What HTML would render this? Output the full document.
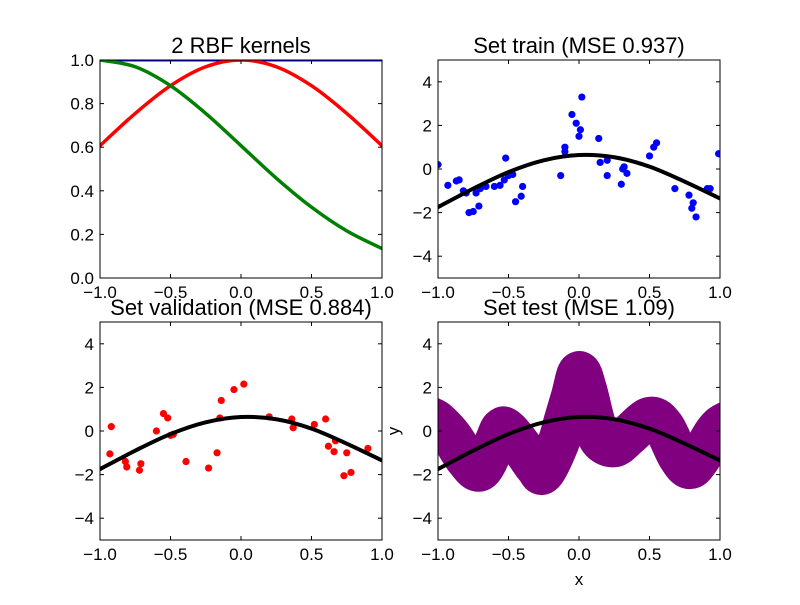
<!DOCTYPE html>
<html><head><meta charset="utf-8"><style>
body{margin:0;background:#fff}
svg text{font-family:"Liberation Sans","DejaVu Sans",sans-serif;fill:#000}
</style></head><body>
<svg id="fig" width="800" height="600" viewBox="0 0 800 600" xmlns="http://www.w3.org/2000/svg">
<rect width="800" height="600" fill="#fff"/>
</svg>
<script>
const kernelX=[-1,-0.75,-0.5,-0.25,0,0.25,0.5,0.75,1];
const kernelRed=[0.607,0.755,0.882,0.969,1,0.969,0.882,0.755,0.607];
const kernelGreen=[1,0.969,0.882,0.755,0.607,0.458,0.325,0.216,0.135];
const kernelBlue=[1,1,1,1,1,1,1,1,1];
const fitX=[-1,-0.75,-0.5,-0.25,0,0.25,0.5,0.75,1];
const fitY=[-1.75,-0.9,-0.14,0.4,0.64,0.54,0.11,-0.58,-1.35];
const trainX=[-1,-0.93,-0.87,-0.85,-0.82,-0.8,-0.78,-0.75,-0.73,-0.71,-0.7,-0.66,-0.6,-0.56,-0.53,-0.52,-0.5,-0.47,-0.45,-0.41,-0.4,-0.13,-0.1,-0.1,-0.05,-0.02,0,0.01,0.02,0.14,0.15,0.2,0.2,0.3,0.31,0.32,0.34,0.5,0.53,0.55,0.68,0.78,0.8,0.81,0.83,0.91,0.93,0.99];
const trainY=[0.2,-0.75,-0.55,-0.5,-1.0,-1.1,-2.0,-1.95,-1.1,-1.7,-0.9,-0.8,-0.8,-0.75,-0.5,0.5,-0.3,-0.25,-1.5,-1.25,-0.8,-0.3,0.8,1.0,2.5,2.1,1.5,1.8,3.3,1.4,0.3,-0.3,0.4,-0.7,0.0,0.1,-0.2,0.6,1.0,1.2,-0.9,-1.2,-1.8,-1.55,-2.2,-0.9,-0.9,0.7];
const valX=[-0.92,-0.93,-0.82,-0.81,-0.72,-0.71,-0.6,-0.55,-0.52,-0.5,-0.48,-0.39,-0.23,-0.17,-0.15,-0.14,-0.05,0.02,0.2,0.36,0.37,0.52,0.6,0.62,0.66,0.67,0.73,0.75,0.78,0.9];
const valY=[0.2,-1.05,-1.4,-1.65,-1.8,-1.5,0.0,0.8,0.6,-0.2,-0.15,-1.4,-1.7,-1.0,0.6,1.4,1.9,2.15,0.65,0.55,0.15,0.3,0.55,-0.7,-0.95,-0.45,-2.05,-1.0,-1.9,-0.8];
const testX=[-1.05,-1,-0.9,-0.8,-0.7,-0.6,-0.55,-0.5,-0.4,-0.3,-0.25,-0.15,-0.1,-0.05,0,0.05,0.1,0.15,0.25,0.35,0.5,0.6,0.7,0.78,0.85,0.95,1,1.05];
const testY=[0.6,0.4,-0.3,-1.3,-1.8,-0.6,0.1,0.0,-0.8,-1.7,-1.9,-0.6,0.5,1.6,2.7,1.9,0.6,-0.4,-0.7,-0.2,0.6,0.2,-1.1,-1.7,-1.3,-0.2,0.2,0.4];
const xTicks=[-1,-0.5,0,0.5,1];
const xTickLabels=["\u22121.0","\u22120.5","0.0","0.5","1.0"];
const kTicks=[0,0.2,0.4,0.6,0.8,1];
const kTickLabels=["0.0","0.2","0.4","0.6","0.8","1.0"];
const yTicks=[-4,-2,0,2,4];
const yTickLabels=["\u22124","\u22122","0","2","4"];

const NS="http://www.w3.org/2000/svg";
const svg=document.getElementById('fig');
function mk(tag,attrs,parent){const e=document.createElementNS(NS,tag);for(const k in attrs)e.setAttribute(k,attrs[k]);(parent||svg).appendChild(e);return e;}
function smooth(pts){let d=`M${pts[0][0]},${pts[0][1]}`;for(let i=0;i<pts.length-1;i++){const p0=pts[Math.max(0,i-1)],p1=pts[i],p2=pts[i+1],p3=pts[Math.min(pts.length-1,i+2)];const c1=[p1[0]+(p2[0]-p0[0])/6,p1[1]+(p2[1]-p0[1])/6],c2=[p2[0]-(p3[0]-p1[0])/6,p2[1]-(p3[1]-p1[1])/6];d+=`C${c1[0]},${c1[1]} ${c2[0]},${c2[1]} ${p2[0]},${p2[1]}`;}return d;}

function makeAxes(id,x0,y0,w,h,ymin,ymax,title){
  const g=mk('g',{});
  
  
  const ax={g,sx:v=>x0+(v+1)/2*w,sy:v=>y0+h-(v-ymin)/(ymax-ymin)*h,x0,y0,w,h};
  const cp=mk('clipPath',{id:'clip-'+id},g);mk('rect',{x:x0,y:y0,width:w,height:h},cp);
  ax.plot=mk('g',{'clip-path':`url(#clip-${id})`},g);
  ax.title=title;ax.ymin=ymin;ax.ymax=ymax;
  return ax;
}
function finishAxes(ax,ticks,labels){
  const g=ax.g;
  const fr=mk('rect',{x:ax.x0,y:ax.y0,width:ax.w,height:ax.h,fill:'none',stroke:'#000','stroke-width':1},g);
  
  
  xTicks.forEach((v,i)=>{const x=ax.sx(v);
    mk('line',{x1:x,x2:x,y1:ax.y0+ax.h,y2:ax.y0+ax.h-4,stroke:'#000'},g);
    mk('line',{x1:x,x2:x,y1:ax.y0,y2:ax.y0+4,stroke:'#000'},g);
    const t=mk('text',{x:x,y:ax.y0+ax.h+20,'text-anchor':'middle','font-size':17},g);t.textContent=xTickLabels[i];
    
    });
  ticks.forEach((v,i)=>{const y=ax.sy(v);
    mk('line',{x1:ax.x0,x2:ax.x0+4,y1:y,y2:y,stroke:'#000'},g);
    mk('line',{x1:ax.x0+ax.w,x2:ax.x0+ax.w-4,y1:y,y2:y,stroke:'#000'},g);
    const t=mk('text',{x:ax.x0-6,y:y+6,'text-anchor':'end','font-size':17},g);t.textContent=labels[i];
    
    });
  const t=mk('text',{x:ax.x0+ax.w/2,y:ax.y0-7,'text-anchor':'middle','font-size':22},g);t.textContent=ax.title;
  
  
}
function line(ax,xs,ys,color,w,name){const p=mk('path',{d:smooth(xs.map((v,i)=>[ax.sx(v),ax.sy(ys[i])])),fill:'none',stroke:color,'stroke-width':w,'stroke-linejoin':'round','stroke-linecap':'round'},ax.plot);
  
  }
function dots(ax,xs,ys,color,name){xs.forEach((v,i)=>{const c=mk('circle',{cx:ax.sx(v),cy:ax.sy(ys[i]),r:3.6,fill:color},ax.plot);
  
  });}

const W=282,H=218;
const a1=makeAxes('kernels-plot',100,60,W,H,0,1,'2 RBF kernels');
line(a1,kernelX,kernelBlue,'#0000ff',3,'kernel-blue');
line(a1,kernelX,kernelRed,'#ff0000',3.5,'kernel-red');
line(a1,kernelX,kernelGreen,'#008000',3.5,'kernel-green');
finishAxes(a1,kTicks,kTickLabels);

const a2=makeAxes('train-plot',438,60,W,H,-5,5,'Set train (MSE 0.937)');
dots(a2,trainX,trainY,'#0000ff','train-point');
line(a2,fitX,fitY,'#000',4,'fit-curve');
finishAxes(a2,yTicks,yTickLabels);

const a3=makeAxes('validation-plot',100,322,W,H,-5,5,'Set validation (MSE 0.884)');
dots(a3,valX,valY,'#ff0000','validation-point');
line(a3,fitX,fitY,'#000',4,'fit-curve');
finishAxes(a3,yTicks,yTickLabels);

const a4=makeAxes('test-plot',438,322,W,H,-5,5,'Set test (MSE 1.09)');
line(a4,testX,testY,'#800080',42,'test-band');
line(a4,fitX,fitY,'#000',4,'fit-curve');
finishAxes(a4,yTicks,yTickLabels);
const xl=mk('text',{x:579,y:585,'text-anchor':'middle','font-size':17});xl.textContent='x';


const yl=mk('text',{x:0,y:0,'text-anchor':'middle','font-size':17,transform:'translate(399,431) rotate(-90)'});yl.textContent='y';


</script>
</body></html>
